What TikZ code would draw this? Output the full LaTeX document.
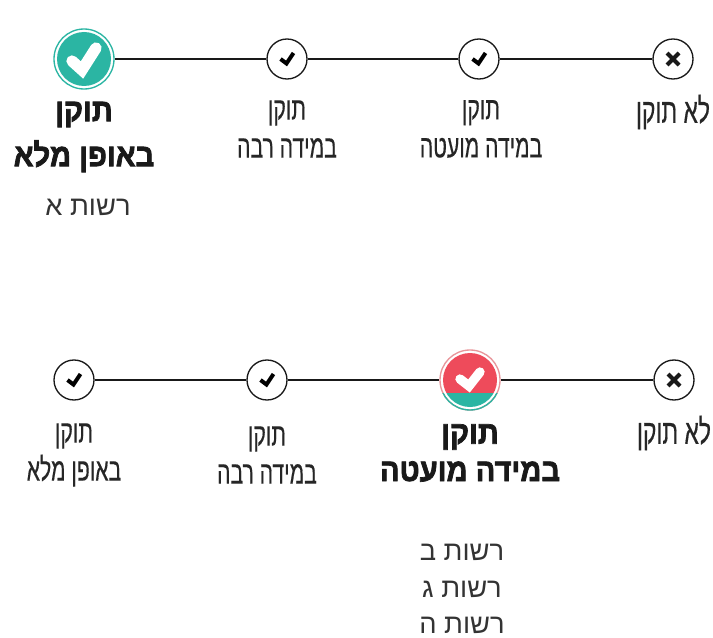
\documentclass[tikz,border=0pt]{standalone}
\usepackage{fontspec}
\TeXXeTstate=1
\newfontfamily\hebthin[Script=Hebrew,FakeStretch=0.66,FakeBold=0.4]{Liberation Sans}
\newfontfamily\hebheavy[Script=Hebrew,FakeStretch=0.91,FakeBold=2.2]{Liberation Sans Bold}
\newfontfamily\hebplain[Script=Hebrew]{Liberation Sans}
\newcommand{\heb}[1]{\beginR #1\endR}
\definecolor{tealfill}{RGB}{43,181,163}
\definecolor{redfill}{RGB}{238,75,91}
\definecolor{redring}{RGB}{232,150,155}
\tikzset{
  small dot/.style={
    circle, draw=black!90, line width=1pt, fill=white,
    minimum size=30pt, inner sep=0pt,
  },
  big dot/.style={
    circle, line width=1pt, fill=white,
    minimum size=45pt, inner sep=0pt,
    draw=#1,
  },
  thin label/.style={
    inner sep=0pt, align=center, text=black!85,
    font=\hebthin\fontsize{#1}{28.5}\selectfont,
  },
  thin label/.default=24,
  bold label/.style={
    inner sep=0pt, align=center, text=black!90,
    font=\hebheavy\fontsize{24}{#1}\selectfont,
  },
  net label/.style={
    inner sep=0pt, align=center, text=black!80,
    font=\hebplain\fontsize{20.5}{27.5}\selectfont,
  },
  link/.style={line width=1.5pt, draw=black!90},
  tick small/.style={draw=black, line width=3pt, line join=miter},
  tick big/.style={draw=white, line width=8.5pt, line join=miter, line cap=round},
}
\begin{document}
\begin{tikzpicture}[x=0.75pt,y=0.75pt,yscale=-1,xscale=1]
\useasboundingbox (0,0) rectangle (713,638);

% upper scale
\node [big dot=tealfill] (fullA) at (84,59) {};
\node [small dot] (muchA) at (287,59) {};
\node [small dot] (littleA) at (479,59) {};
\node [small dot] (noneA) at (673,59) {};
\draw [link] (fullA) -- (muchA);
\draw [link] (muchA) -- (littleA);
\draw [link] (littleA) -- (noneA);
\fill [tealfill] (fullA.center) circle (27);
\draw [tick big] ([shift={(-12,2)}]fullA.center) -- ([shift={(-2,11)}]fullA.center) -- ([shift={(12,-11)}]fullA.center);

% lower scale
\node [small dot] (fullB) at (74,380) {};
\node [small dot] (muchB) at (267,380) {};
\node [big dot=redring] (littleB) at (470,380) {};
\node [small dot] (noneB) at (674,380) {};
\draw [link] (fullB) -- (muchB);
\draw [link] (muchB) -- (littleB);
\draw [link] (littleB) -- (noneB);
\begin{scope}
  \clip (littleB.center) circle (27);
  \fill [redfill] (440,350) rectangle (500,393);
  \fill [tealfill] (440,393) rectangle (500,410);
\end{scope}
\begin{scope}
  \clip (435,393) rectangle (505,415);
  \draw [tealfill, line width=1pt] (littleB.center) circle (30);
\end{scope}
\draw [tick big, line width=7pt] ([shift={(-10,-1)}]littleB.center) -- ([shift={(-1,6)}]littleB.center) -- ([shift={(10,-8)}]littleB.center);

% small ticks
\foreach \n in {muchA,littleA,fullB,muchB}
  \draw [tick small] ([shift={(-6.5,0)}]\n.center) -- ([shift={(-0.5,4.5)}]\n.center) -- ([shift={(6.5,-6)}]\n.center);
\foreach \n in {noneA,noneB} {
  \draw [link,line width=3pt] ([shift={(-6,-6)}]\n.center) -- ([shift={(6,6)}]\n.center);
  \draw [link,line width=3pt] ([shift={(-6,6)}]\n.center) -- ([shift={(6,-6)}]\n.center);
}

% Text Node
\node [bold label=33.75] (textFullA) at (84,137) {\heb{תוקן}\\\heb{באופן מלא}};
\node [thin label] (textMuchA) at (287,129) {\heb{תוקן}\\\heb{במידה רבה}};
\node [thin label] (textLittleA) at (481,129) {\heb{תוקן}\\\heb{במידה מועטה}};
\node [thin label=26] (textNoneA) at (673,112) {\heb{לא תוקן}};
\node [net label] (textNetA) at (88,207) {\heb{רשות א}};

\node [thin label] (textFullB) at (74,455) {\heb{תוקן}\\\heb{באופן מלא}};
\node [thin label] (textMuchB) at (267,455) {\heb{תוקן}\\\heb{במידה רבה}};
\node [bold label=28] (textLittleB) at (470,453) {\heb{תוקן}\\\heb{במידה מועטה}};
\node [thin label=26] (textNoneB) at (674,433) {\heb{לא תוקן}};
\node [net label] (textNetB) at (462,589) {\heb{רשות ב}\\\heb{רשות ג}\\\heb{רשות ה}};
\end{tikzpicture}
\end{document}
